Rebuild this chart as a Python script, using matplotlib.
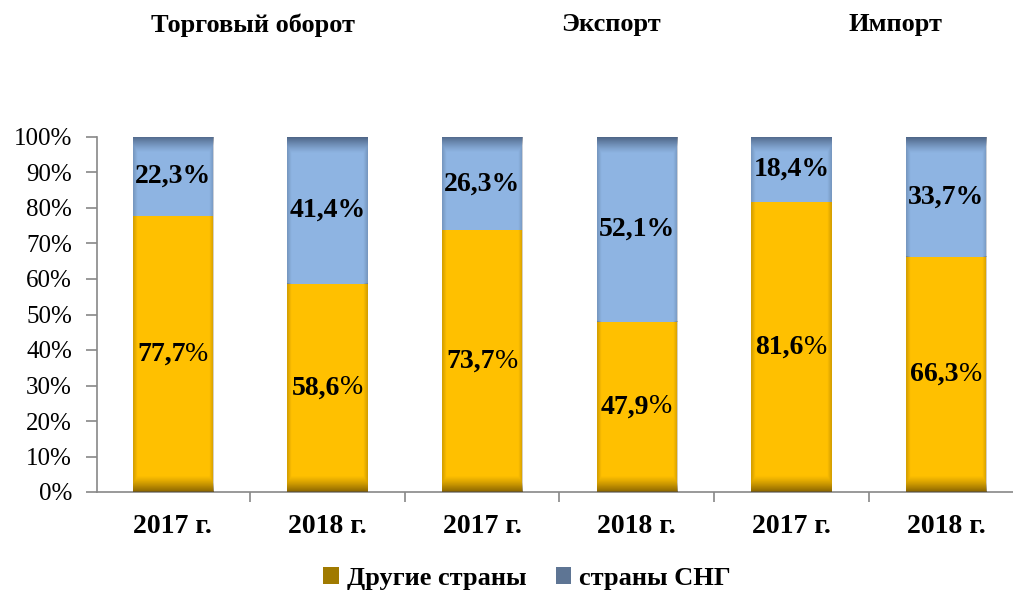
import numpy as np
import matplotlib.pyplot as plt
from matplotlib.patches import Patch
from matplotlib.offsetbox import TextArea, HPacker, AnnotationBbox
from matplotlib.ticker import FixedLocator, PercentFormatter

plt.rcParams['font.family'] = ['Liberation Serif', 'DejaVu Serif']

# data
years = ['2017 г.', '2018 г.', '2017 г.', '2018 г.', '2017 г.', '2018 г.']
others = [77.7, 58.6, 73.7, 47.9, 81.6, 66.3]
cis = [22.3, 41.4, 26.3, 52.1, 18.4, 33.7]
groups = ['Торговый оборот', 'Экспорт', 'Импорт']
group_x = [253, 611, 895]   # title centres, px
series = ['Другие страны', 'страны СНГ']

c_other = '#FFC000'
c_cis = '#8EB4E2'

fig = plt.figure(figsize=(10.13, 5.92), dpi=100)
W, H = 1013, 592
ax = fig.add_axes([97 / W, 100 / H, (1013 - 97) / W, 355 / H])

x = np.arange(len(years))
bw = 0.52
b1 = ax.bar(x, others, bw, color=c_other, zorder=2)
b2 = ax.bar(x, cis, bw, bottom=others, color=c_cis, zorder=2)


def shade(patch, dark, where, frac=4.5):
    """dark band at top/bottom of a bar segment plus soft side edges"""
    x0, y0 = patch.get_x(), patch.get_y()
    w, h = patch.get_width(), patch.get_height()
    ny, nx = 300, 60
    yy = np.linspace(0, 1, ny)[:, None] * h   # 0 = bottom
    xx = np.linspace(0, 1, nx)[None, :]
    if where == 'top':
        d = h - yy
    else:
        d = yy
    a = np.clip(1 - d / frac, 0, 1) ** 1.2 * 0.7
    side = np.clip(1 - np.minimum(xx, 1 - xx) / 0.05, 0, 1) * 0.25
    a = np.maximum(a, side)
    img = np.zeros((ny, nx, 4))
    img[..., :3] = dark
    img[..., 3] = a
    ax.imshow(img, extent=(x0, x0 + w, y0, y0 + h), origin='lower',
              aspect='auto', zorder=3, interpolation='bilinear')


for p in b1:
    shade(p, (0.35, 0.25, 0.0), 'bottom')
for p in b2:
    shade(p, (0.2, 0.27, 0.38), 'top')

ax.set_xlim(-0.49, 5.433)
ax.set_ylim(0, 100)

# labels
fs = 20
for i in range(len(years)):
    ax.text(x[i], others[i] + cis[i] / 2, f'{cis[i]:.1f}%'.replace('.', ','),
            ha='center', va='center', fontsize=fs, fontweight='bold', zorder=5)
    num = TextArea(f'{others[i]:.1f}'.replace('.', ','),
                   textprops=dict(fontsize=fs, fontweight='bold'))
    pct = TextArea('%', textprops=dict(fontsize=fs))
    box = HPacker(children=[num, pct], pad=0, sep=0, align='baseline')
    ab = AnnotationBbox(box, (x[i], others[i] / 2), frameon=False,
                        box_alignment=(0.5, 0.5), pad=0, zorder=5)
    ax.add_artist(ab)

# axes styling
for s in ['top', 'right']:
    ax.spines[s].set_visible(False)
for s in ['left', 'bottom']:
    ax.spines[s].set_color('#888888')
    ax.spines[s].set_linewidth(1.2)
ax.yaxis.set_major_locator(FixedLocator(np.arange(0, 101, 10)))
ax.yaxis.set_major_formatter(PercentFormatter(decimals=0))
ax.tick_params(axis='y', labelsize=18, color='#888888', length=8, width=1.2, pad=10)
ax.set_xticks(x)
ax.set_xticklabels(years, fontsize=20, fontweight='bold')
ax.tick_params(axis='x', which='major', length=0, pad=16)
ax.xaxis.set_minor_locator(FixedLocator(x[:-1] + 0.5))
ax.tick_params(axis='x', which='minor', length=7, color='#888888', width=1.2)

for g, gx in zip(groups, group_x):
    fig.text(gx / W, 1 - 25 / H, g, ha='center', va='center',
             fontsize=19, fontweight='bold')

handles = [Patch(facecolor='#A07A00', label=series[0]),
           Patch(facecolor='#5E7594', label=series[1])]
fig.legend(handles=handles, loc='center', bbox_to_anchor=(527 / W, 1 - 578 / H),
           ncol=2, frameon=False, prop=dict(size=19, weight='bold'),
           handlelength=0.6, handleheight=0.6, handletextpad=0.3, columnspacing=1.1)

fig.savefig('out.png', dpi=100)
